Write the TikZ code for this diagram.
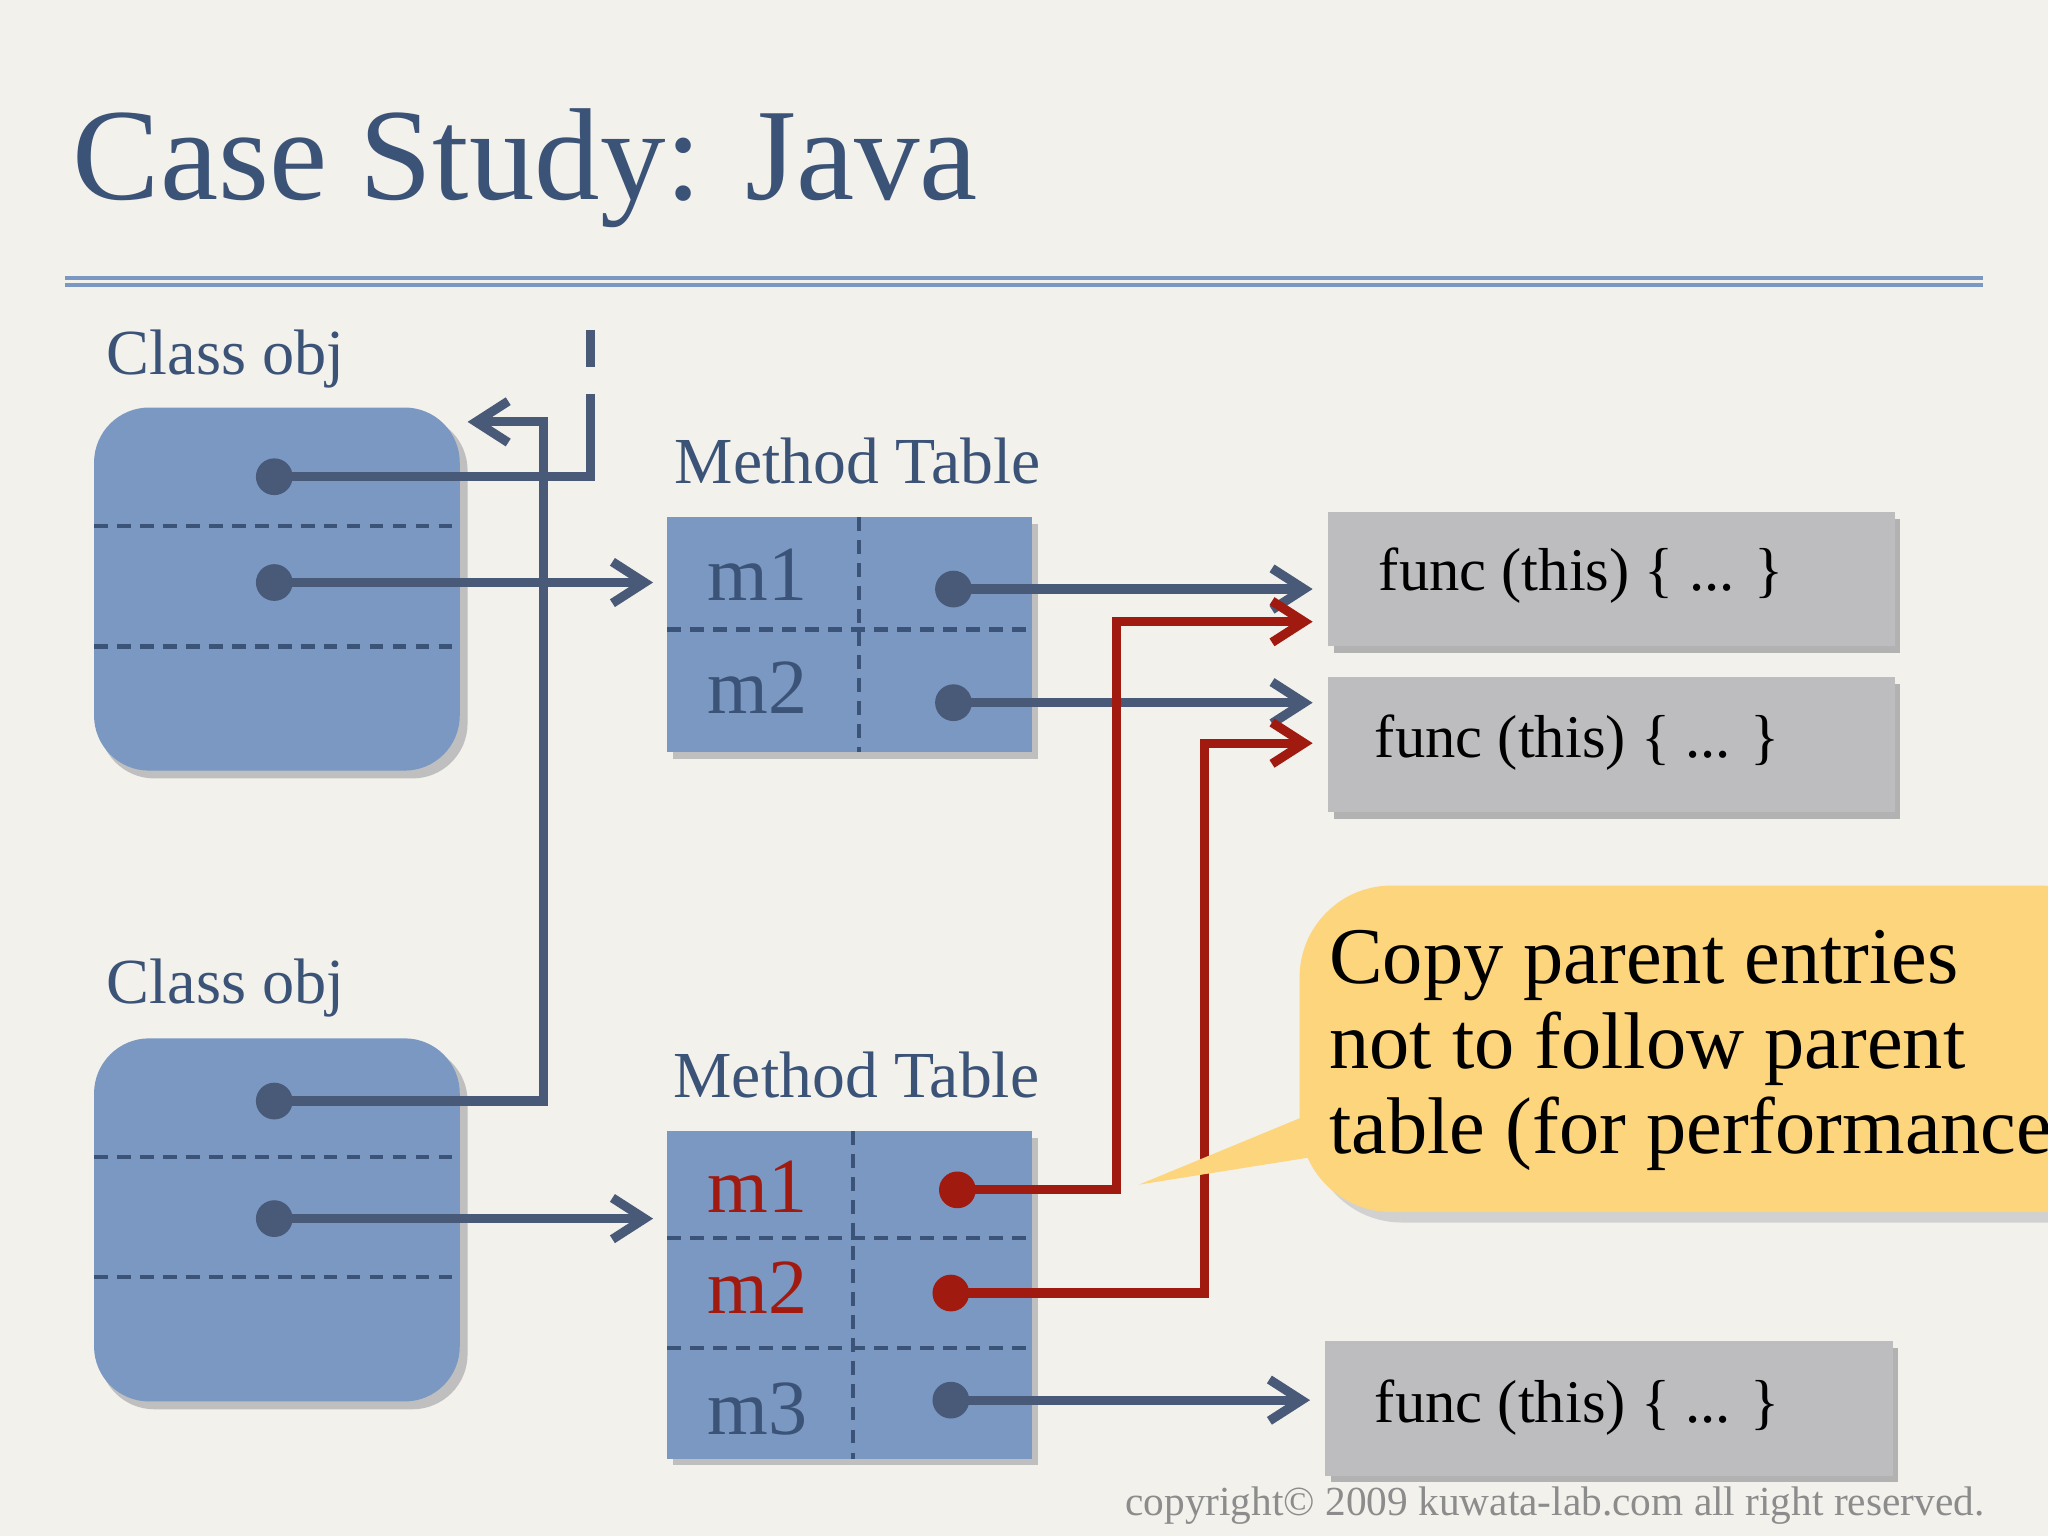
\documentclass[tikz,border=0pt]{standalone}
\usepackage{fontspec}
\setmainfont{Liberation Serif}
\usetikzlibrary{arrows.meta}
\definecolor{bg}{HTML}{F3F1EC}
\definecolor{ink}{HTML}{3B5377}
\definecolor{boxblue}{HTML}{7A98C2}
\definecolor{boxgray}{HTML}{BDBCBE}
\definecolor{wire}{HTML}{485A78}
\definecolor{redw}{HTML}{A01A10}
\definecolor{callout}{HTML}{FCD57C}
\tikzset{
  cls/.style={fill=boxblue, rounded corners=12pt},
  sep/.style={densely dashed, ink, line width=0.9pt},
  wireb/.style={wire, line width=2pt, -{Straight Barb[length=7pt,width=9pt]}},
  wirer/.style={redw, line width=2pt, -{Straight Barb[length=7pt,width=9pt]}},
  dotb/.style={circle, fill=wire, inner sep=0pt, minimum size=8pt},
  dotr/.style={circle, fill=redw, inner sep=0pt, minimum size=8pt},
  lbl/.style={text=ink, anchor=base west, inner sep=0pt},
  mname/.style={font=\fontsize{17}{20}\selectfont, anchor=base west, inner sep=0pt},
  func/.style={fill=boxgray, minimum width=4.34cm, minimum height=1.03cm, anchor=north west, inner sep=0pt},
  ftext/.style={font=\fontsize{13.2}{16}\selectfont, anchor=base west, inner sep=0pt},
  ctext/.style={font=\fontsize{17.5}{21}\selectfont, anchor=base west, inner sep=0pt},
}
\begin{document}
\begin{tikzpicture}[x=0.01cm, y=-0.01cm]
\useasboundingbox (0,0) rectangle (1568,1176);
\fill[bg] (0,0) rectangle (1568,1176);
\clip (0,0) rectangle (1568,1176);
% title
\node[text=ink, font=\fontsize{28.5}{32}\selectfont, anchor=base west, inner sep=0pt] (title) at (55,153) {Case Study: Java};
\draw[boxblue, line width=0.8pt] (50,213) -- (1518,213) (50,218) -- (1518,218);
% class objects
\node[lbl, font=\fontsize{14}{17}\selectfont] (c1) at (81,287) {Class obj};
\node[lbl, font=\fontsize{14}{17}\selectfont] (c2) at (81,768) {Class obj};
\foreach \y/\n in {312/a,795/b} {
  \fill[black!25, rounded corners=12pt] (76,\y+6) rectangle (358,\y+284);
  \fill[cls] (72,\y) rectangle (352,\y+278);
  \draw[sep] (72,\y+91) -- (352,\y+91) (72,\y+183) -- (352,\y+183);
}
% method tables
\node[lbl, font=\fontsize{14.3}{17}\selectfont] (t1) at (516,370) {Method Table};
\node[lbl, font=\fontsize{14.3}{17}\selectfont] (t2) at (515,840) {Method Table};
\fill[black!25] (515,401) rectangle (795,581);
\fill[boxblue] (511,396) rectangle (790,576);
\draw[sep] (511,482) -- (790,482) (658,396) -- (658,576);
\fill[black!25] (515,871) rectangle (795,1122);
\fill[boxblue] (511,866) rectangle (790,1117);
\draw[sep] (511,948) -- (790,948) (511,1032) -- (790,1032) (653,866) -- (653,1117);
\node[mname, text=ink] (m1) at (541,460) {m1};
\node[mname, text=ink] (m2) at (541,546) {m2};
\node[mname, text=redw] (n1) at (541,928) {m1};
\node[mname, text=redw] (n2) at (541,1006) {m2};
\node[mname, text=ink] (n3) at (541,1098) {m3};
% func boxes
\foreach \x/\y/\n in {1016/391/f1,1016/518/f2,1014/1026/f3} {
  \fill[black!30] (\x+5,\y+6) rectangle (\x+439,\y+109);
  \node[func] (\n) at (\x,\y) {};
}
\node[ftext] (ft1) at (1055,452) {func (this) \{ ... \}};
\node[ftext] (ft2) at (1052,580) {func (this) \{ ... \}};
\node[ftext] (ft3) at (1052,1089) {func (this) \{ ... \}};
% dots
\node[dotb] (a1) at (210,365) {};
\node[dotb] (a2) at (210,446) {};
\node[dotb] (b1) at (210,843) {};
\node[dotb] (b2) at (210,933) {};
\node[dotb] (p1) at (730,451) {};
\node[dotb] (p2) at (730,538) {};
\node[dotr] (q1) at (733,911) {};
\node[dotr] (q2) at (728,990) {};
\node[dotb] (q3) at (728,1072) {};
\coordinate (up) at (452,330);
\coordinate (top) at (452,238);
\coordinate (ain) at (358,323);
\coordinate (t1in) at (500,446);
\coordinate (t2in) at (500,933);
\coordinate (f1a) at (1005,451);
\coordinate (f1b) at (1005,476);
\coordinate (f2a) at (1005,538);
\coordinate (f2b) at (1005,569);
\coordinate (f3a) at (1003,1072);
% connectors
\draw[wire, line width=2pt] (a1.center) -| (up);
\draw[wire, line width=2pt, dash pattern=on 8pt off 6pt] (up) -- (top);
\draw[wireb] (b1.center) -| (416,323) -- (ain);
\draw[wireb] (a2.center) -- (t1in);
\draw[wireb] (b2.center) -- (t2in);
\draw[wireb] (p1.center) -- (f1a);
\draw[wireb] (p2.center) -- (f2a);
\draw[wireb] (q3.center) -- (f3a);
\draw[wirer] (q1.center) -| (855,476) -- (f1b);
\draw[wirer] (q2.center) -| (922,569) -- (f2b);
% callout
\fill[black!18, rounded corners=20pt] (1003,686) rectangle (1640,936);
\fill[callout, rounded corners=20pt] (995,678) rectangle (1632,928);
\fill[callout] (872,907) -- (1010,850) -- (1010,885) -- cycle;
\node[ctext] (c1t) at (1017,753) {Copy parent entries};
\node[ctext] (c2t) at (1017,818) {not to follow parent};
\node[ctext] (c3t) at (1017,883) {table (for performance)};
\node[text=black!45, font=\fontsize{9}{11}\selectfont, anchor=base east, inner sep=0pt] (cp) at (1520,1160) {copyright© 2009 kuwata-lab.com all right reserved.};
\end{tikzpicture}
\end{document}
